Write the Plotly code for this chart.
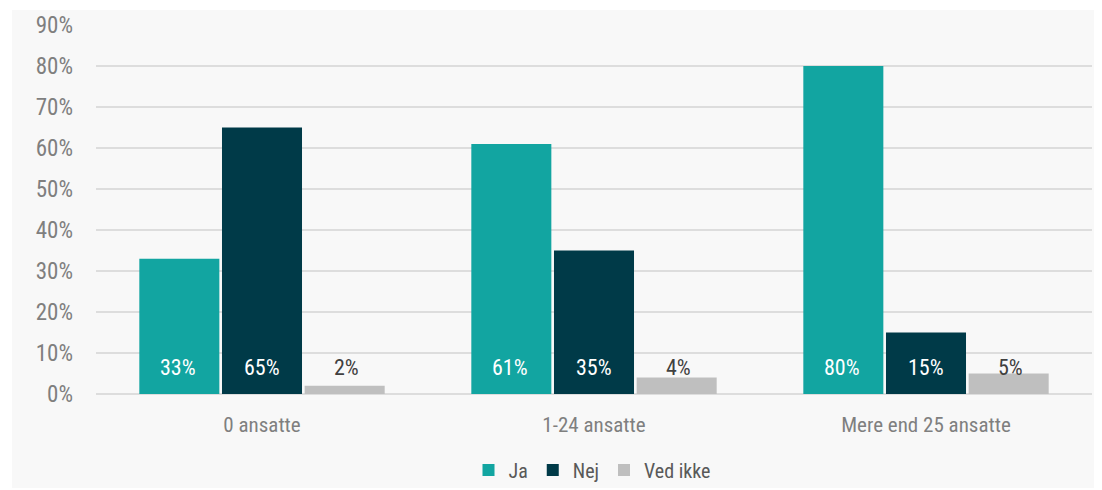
import plotly.graph_objects as go

categories = ["0 ansatte", "1-24 ansatte", "Mere end 25 ansatte"]
series_names = ["Ja", "Nej", "Ved ikke"]
ja = [33, 61, 80]
nej = [65, 35, 15]
ved_ikke = [2, 4, 5]
y_ticks = [0, 10, 20, 30, 40, 50, 60, 70, 80, 90]

colors = ["#12A5A1", "#003A48", "#BFBFBF"]
label_colors = ["#FFFFFF", "#FFFFFF", "#404040"]
FONT = "Roboto Condensed, Liberation Sans Narrow, Roboto, sans-serif"

fig = go.Figure()
values = [ja, nej, ved_ikke]
for name, vals, col in zip(series_names, values, colors):
    fig.add_trace(go.Bar(x=categories, y=vals, name=name, marker=dict(color=col, line=dict(width=0))))

offsets = [-84, 0, 84]
for vals, off, lc in zip(values, offsets, label_colors):
    for c, v in zip(categories, vals):
        fig.add_annotation(x=c, y=6.4, xref="x", yref="y", text=f"{v}%", showarrow=False,
                           xshift=off, font=dict(family=FONT, size=22, color=lc))

fig.add_shape(type="rect", xref="paper", yref="paper", x0=-0.0843, x1=1.003, y0=-0.255, y1=1.0406,
              fillcolor="#F8F8F8", line=dict(width=0), layer="below")

fig.update_layout(
    width=1102, height=490,
    margin=dict(l=88, r=18, t=17, b=104, autoexpand=False),
    paper_bgcolor="#FFFFFF", plot_bgcolor="rgba(0,0,0,0)",
    barmode="group", bargap=0.253, bargroupgap=0.032,
    font=dict(family=FONT, color="#7F7F7F", size=20),
    showlegend=True,
    legend=dict(orientation="h", x=0.498, xanchor="center", y=-0.206, yanchor="middle",
                font=dict(size=20, color="#595959"), itemwidth=30, bgcolor="rgba(0,0,0,0)"),
    xaxis=dict(showgrid=False, showline=False, ticks="", automargin=False,
               tickfont=dict(size=21, color="#7F7F7F"), ticklabelstandoff=16),
    yaxis=dict(range=[0, 90], tickvals=y_ticks, ticktext=[f"{v}%" for v in y_ticks],
               showgrid=True, gridcolor="#DDDDDD", automargin=False,
               gridwidth=2, zeroline=True, zerolinecolor="#DDDDDD", zerolinewidth=2,
               tickfont=dict(size=23, color="#7F7F7F"), ticklabelstandoff=22),
)

fig.write_html("out.html")
